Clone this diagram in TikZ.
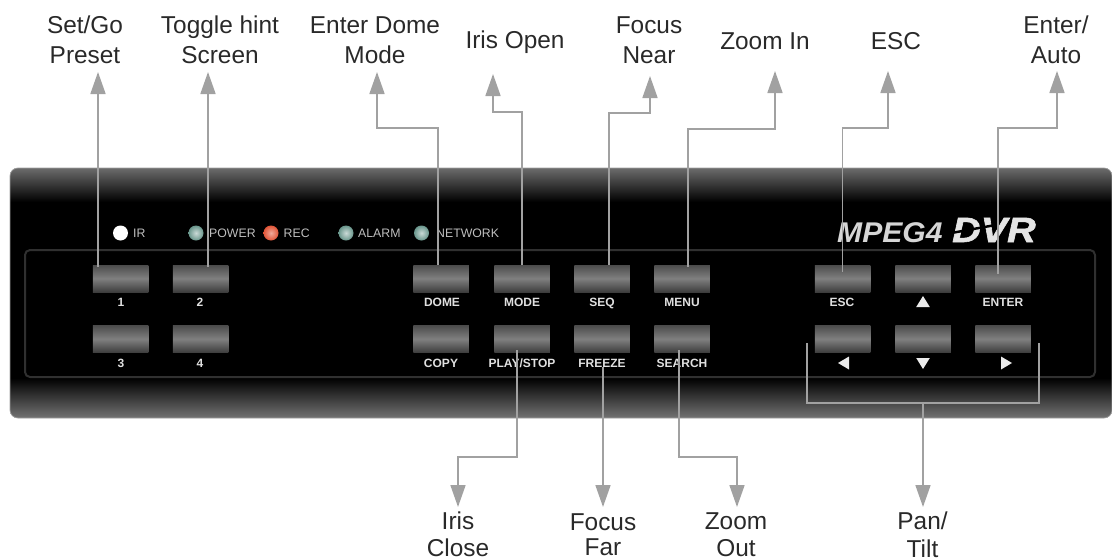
\documentclass[tikz,border=0pt]{standalone}
\usepackage{fontspec}
\setmainfont{Liberation Sans}
\newfontfamily\logofont[BoldItalicFeatures={FakeBold=1.6}]{Liberation Sans}
\usetikzlibrary{arrows.meta}
\definecolor{conn}{gray}{0.63}
\definecolor{ink}{gray}{0.16}
\definecolor{frameline}{gray}{0.19}
\definecolor{btntop}{gray}{0.30}
\definecolor{btnmid}{gray}{0.50}
\definecolor{btnbot}{gray}{0.24}
\definecolor{ledteal}{RGB}{105,150,140}
\definecolor{ledred}{RGB}{225,85,55}
\def\playstop{PLAY/STOP}
\tikzset{
  x=1pt,y=-1pt,
  callout/.style={font=\fontsize{24.4}{29.5}\selectfont,text=ink,align=center,inner sep=0pt},
  lowcallout/.style={font=\fontsize{24.4}{27.5}\selectfont,text=ink,align=center,inner sep=0pt},
  tightcallout/.style={font=\fontsize{24.4}{25.5}\selectfont,text=ink,align=center,inner sep=0pt},
  connector/.style={draw=conn,line width=1.7pt,-{Triangle[length=22pt,width=15pt]}},
  plainline/.style={draw=conn,line width=1.7pt},
  btn/.style={minimum width=55.5pt,minimum height=27pt,inner sep=0pt,
    top color=btntop,bottom color=btnbot,middle color=btnmid},
  keytext/.style={font=\fontsize{12}{12}\selectfont\bfseries,text=white!88!black,inner sep=0pt,anchor=base},
  ledtext/.style={font=\fontsize{12.3}{12}\selectfont,text=white!75!black,inner sep=0pt,anchor=west},
  keymark/.style={fill=white!92!black},
  led/.style={circle,minimum size=15pt,inner sep=0pt},
}
\begin{document}
\begin{tikzpicture}
\useasboundingbox (0,0) rectangle (1112,560);
% panel
\begin{scope}
  \clip[rounded corners=8pt] (10,168) rectangle (1112,418);
  \fill[black] (10,168) rectangle (1112,418);
  \shade[top color=black!58!white,bottom color=black] (10,168) rectangle (1112,202);
  \shade[top color=black,bottom color=black!55!white] (10,378) rectangle (1112,418);
\end{scope}
\draw[gray!75,line width=.7pt,rounded corners=8pt] (10,168) rectangle (1112,418);
\draw[frameline,line width=2pt,rounded corners=5pt] (25,250) rectangle (1095,377);
% LEDs
\node[led,fill=white] (ledIR) at (120.5,233) {};
\node[led,inner color=white!65!ledteal,outer color=ledteal] (ledPower) at (196,233) {};
\node[led,inner color=white!50!ledred,outer color=ledred] (ledRec) at (271,233) {};
\node[led,inner color=white!65!ledteal,outer color=ledteal] (ledAlarm) at (346,233) {};
\node[led,inner color=white!65!ledteal,outer color=ledteal] (ledNet) at (421.5,233) {};
\node[ledtext] (txtIR) at (133,233) {IR};
\node[ledtext] (txtPower) at (209,233) {POWER};
\node[ledtext] (txtRec) at (283.5,233) {REC};
\node[ledtext] (txtAlarm) at (358,233) {ALARM};
\node[ledtext] (txtNet) at (436,233) {NETWORK};
% logo
\node[inner sep=0pt,anchor=base west,text=white!84!black,font=\fontsize{28.5}{30}\selectfont\bfseries\itshape,xscale=1.055] (logoA) at (837,242) {MPEG4};
\node[inner sep=0pt,anchor=base west,text=white!90!black,font=\logofont\fontsize{35}{36}\selectfont\bfseries\itshape,xscale=1.13] (logoB) at (952,242) {DVR};
\fill[black] (950,232) -- (994,224) -- (994,226.5) -- (950,234.5) -- cycle;
% buttons
\foreach \nm/\cx/\cy in {bOne/120.5/278.5,bTwo/200.5/278.5,bThree/120.5/339,bFour/200.5/339,
  bDome/441/278.5,bMode/522/278.5,bSeq/602/278.5,bMenu/682/278.5,
  bCopy/441/339,bPlay/522/339,bFreeze/602/339,bSearch/682/339,
  bEsc/842.5/278.5,bUp/923/278.5,bEnter/1003/278.5,
  bLeft/842.5/339,bDown/923/339,bRight/1003/339}
  {\node[btn] (\nm) at (\cx,\cy) {};}
% key labels
\foreach \nm/\cx/\cy/\tx in {lOne/121/306.5/1,lTwo/200/306.5/2,lThree/121/367/3,lFour/200/367/4,
  lDome/442/306.5/DOME,lMode/522/306.5/MODE,lSeq/602/306.5/SEQ,lMenu/682/306.5/MENU,
  lCopy/441/367/COPY,lPlay/522/367/\playstop,lFreeze/602/367/FREEZE,lSearch/682/367/SEARCH,
  lEsc/842/306.5/ESC,lEnter/1003/306.5/ENTER}
  {\node[keytext] (\nm) at (\cx,\cy) {\tx};}
\fill[keymark] (923,296) -- (929.8,307) -- (916.2,307) -- cycle;
\fill[keymark] (838,363) -- (849,356.5) -- (849,369.5) -- cycle;
\fill[keymark] (923,369) -- (929.8,358) -- (916.2,358) -- cycle;
\fill[keymark] (1012,363) -- (1001,356.5) -- (1001,369.5) -- cycle;
% callouts
\node[callout] (cSet) at (85,40) {Set/Go\\Preset};
\node[callout] (cToggle) at (220,40) {Toggle hint\\Screen};
\node[callout] (cDome) at (375,40) {Enter Dome\\Mode};
\node[callout] (cIris) at (515,42) {Iris Open};
\node[callout] (cNear) at (649,40) {Focus\\Near};
\node[callout] (cZoomIn) at (765,41) {Zoom In};
\node[callout] (cEsc) at (896,41) {ESC};
\node[callout] (cAuto) at (1056,40) {Enter/\\Auto};
\node[lowcallout] (cClose) at (458,534.5) {Iris\\Close};
\node[tightcallout] (cFar) at (603,534.5) {Focus\\Far};
\node[lowcallout] (cOut) at (736,534.5) {Zoom\\Out};
\node[lowcallout] (cPan) at (922.5,534.5) {Pan/\\Tilt};
% connector ends
\foreach \nm/\px/\py in {tSet/98/72,tToggle/208/72,tDome/377/72,tIris/493/74,tNear/650/76,tZoomIn/775/71,tEsc/888/71,tAuto/1057/71,
  tClose/458/507,tFar/603/507,tOut/737/507,tPan/923/507,
  kDome/377/128,kIris/493/112,kNear/650/113,kZoomIn/775/129,kEsc/888/128,kAuto/1057/128,
  kClose/458/457,kOut/737/457,kLeft/807/403,kRight/1039/403,eLeft/807/343,eRight/1039/343,kMid/923/403}
  {\coordinate (\nm) at (\px,\py);}
\draw[connector] ([yshift=-2pt]bOne.north -| tSet) -- (tSet);
\draw[connector] ([yshift=-2pt]bTwo.north -| tToggle) -- (tToggle);
\draw[connector] ([xshift=-3pt]bDome.north) |- (kDome) -- (tDome);
\draw[connector] (bMode.north) |- (kIris) -- (tIris);
\draw[connector] ([xshift=7pt]bSeq.north) |- (kNear) -- (tNear);
\draw[connector] ([xshift=6pt,yshift=-2pt]bMenu.north) |- (kZoomIn) -- (tZoomIn);
\draw[connector] ([yshift=-7pt]bEsc.north) |- (kEsc) -- (tEsc);
\draw[connector] ([xshift=-5pt,yshift=-9pt]bEnter.north) |- (kAuto) -- (tAuto);
\draw[connector] ([xshift=-5pt,yshift=2.5pt]bPlay.south) |- (kClose) -- (tClose);
\draw[connector] (lFreeze.south -| tFar) -- (tFar);
\draw[connector] ([xshift=-3pt,yshift=2.5pt]bSearch.south) |- (kOut) -- (tOut);
\draw[plainline] (eLeft) -- (kLeft) -- (kRight) -- (eRight);
\draw[connector] (kMid) -- (tPan);
\end{tikzpicture}
\end{document}
